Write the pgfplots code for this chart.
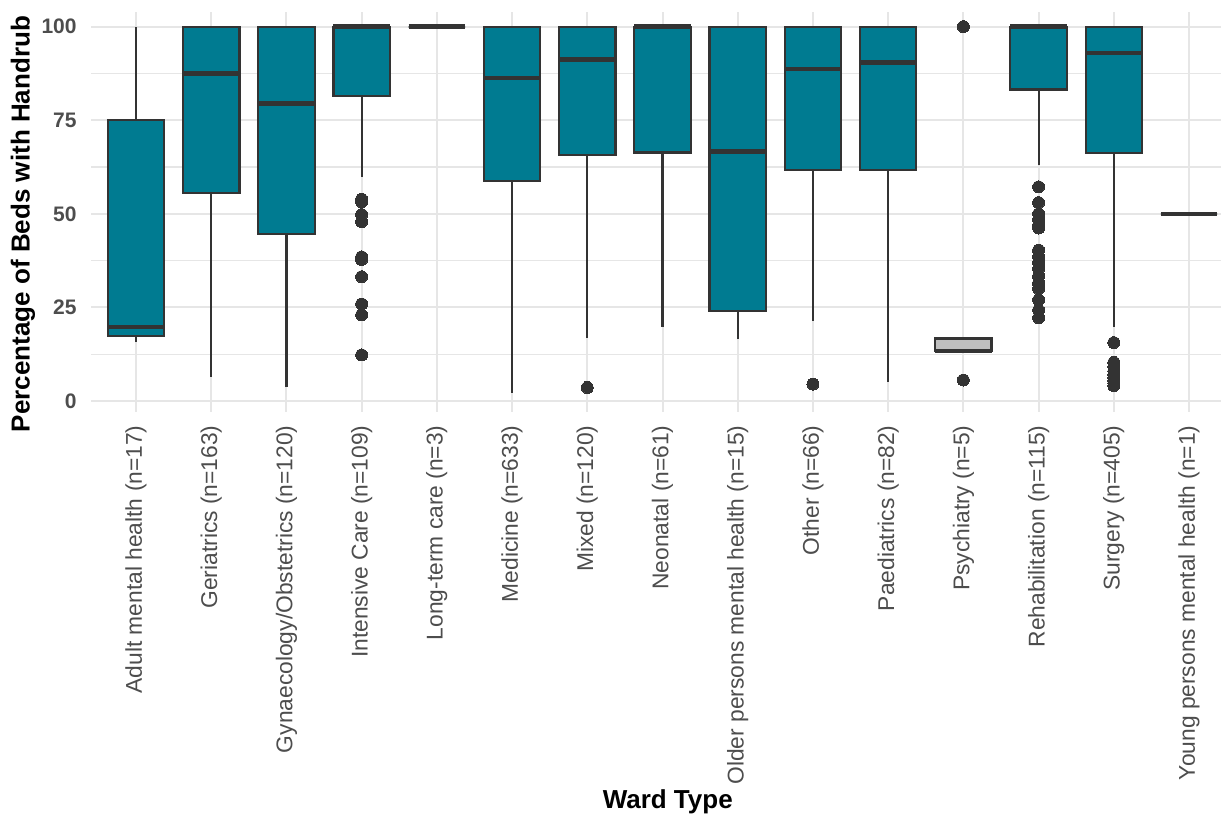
\documentclass[border=0pt]{standalone}
\usepackage{pgfplots}
\pgfplotsset{compat=1.18}
\usepgfplotslibrary{statistics}
\usepackage{fontspec}
\setmainfont{Liberation Sans}

\definecolor{boxfill}{HTML}{007B91}
\definecolor{boxline}{HTML}{333333}
\definecolor{psyfill}{HTML}{BEBEBE}
\definecolor{ticktext}{HTML}{4D4D4D}
\definecolor{gridc}{HTML}{E6E6E6}

\pgfplotsset{
  wardbox/.style={
    solid, draw=boxline, fill=boxfill, line width=1.1pt,
    mark=*, mark size=3pt,
    mark options={draw=boxline, fill=boxline, line width=0pt},
    boxplot/draw direction=y,
    boxplot/box extend=0.75,
    boxplot/whisker extend=0,
    boxplot/every median/.style={line width=2.2pt},
  },
}

\begin{document}
\begin{tikzpicture}
\begin{axis}[
  name=ax,
  scale only axis,
  width=565pt, height=200pt,
  xmin=-0.598, xmax=14.425,
  ymin=-2.94, ymax=103.9,
  /pgf/number format/assume math mode=true,
  xtick={0,...,14},
  xticklabels={
    Adult mental health (n=17),
    Geriatrics (n=163),
    Gynaecology/Obstetrics (n=120),
    Intensive Care (n=109),
    Long-term care (n=3),
    Medicine (n=633),
    Mixed (n=120),
    Neonatal (n=61),
    Older persons mental health (n=15),
    Other (n=66),
    Paediatrics (n=82),
    Psychiatry (n=5),
    Rehabilitation (n=115),
    Surgery (n=405),
    Young persons mental health (n=1)},
  ytick={0,25,50,75,100},
  minor ytick={12.5,37.5,62.5,87.5},
  grid=both,
  major grid style={draw=gridc, line width=1pt},
  minor grid style={draw=gridc, line width=0.6pt},
  axis line style={draw=none},
  major tick length=0pt, minor tick length=0pt,
  tick style={draw=none},
  xticklabel style={rotate=90, anchor=east, inner sep=0pt,
    font=\fontsize{11.4}{13}\selectfont, text=ticktext},
  yticklabel style={anchor=east, inner sep=0pt,
    font=\fontsize{10.5}{12}\selectfont\bfseries, text=ticktext},
  xticklabel shift=6.5pt,
  yticklabel shift=7pt,
  xlabel={Ward Type},
  ylabel={Percentage of Beds with Handrub},
  xlabel style={at={(axis description cs:0.5104,0)}, anchor=base,
    yshift=-198pt, font=\fontsize{13}{15}\selectfont\bfseries},
  ylabel style={at={(axis description cs:0,0.47)}, anchor=center,
    yshift=34pt, font=\fontsize{13}{15}\selectfont\bfseries},
  clip=false,
]
% Adult mental health
\addplot[wardbox, boxplot prepared={draw position=0,
  lower whisker=15.8, lower quartile=17.4, median=19.8,
  upper quartile=75, upper whisker=100}] coordinates {};
% Geriatrics
\addplot[wardbox, boxplot prepared={draw position=1,
  lower whisker=6.5, lower quartile=55.5, median=87.5,
  upper quartile=100, upper whisker=100}] coordinates {};
% Gynaecology/Obstetrics
\addplot[wardbox, boxplot prepared={draw position=2,
  lower whisker=3.8, lower quartile=44.5, median=79.5,
  upper quartile=100, upper whisker=100}] coordinates {};
% Intensive Care
\addplot[wardbox, boxplot prepared={draw position=3,
  lower whisker=59.9, lower quartile=81.5, median=100,
  upper quartile=100, upper whisker=100}]
  table[row sep=\\, y index=0] {53.9\\ 53.2\\ 49.8\\ 47.9\\ 38.5\\ 37.8\\ 33.2\\ 25.9\\ 23.0\\ 12.3\\};
% Long-term care
\addplot[wardbox, boxplot prepared={draw position=4,
  lower whisker=100, lower quartile=100, median=100,
  upper quartile=100, upper whisker=100}] coordinates {};
% Medicine
\addplot[wardbox, boxplot prepared={draw position=5,
  lower whisker=2.2, lower quartile=58.8, median=86.3,
  upper quartile=100, upper whisker=100}] coordinates {};
% Mixed
\addplot[wardbox, boxplot prepared={draw position=6,
  lower whisker=16.9, lower quartile=65.6, median=91.2,
  upper quartile=100, upper whisker=100}]
  table[row sep=\\, y index=0] {3.6\\};
% Neonatal
\addplot[wardbox, boxplot prepared={draw position=7,
  lower whisker=19.8, lower quartile=66.4, median=100,
  upper quartile=100, upper whisker=100}] coordinates {};
% Older persons mental health
\addplot[wardbox, boxplot prepared={draw position=8,
  lower whisker=16.5, lower quartile=24.1, median=66.6,
  upper quartile=100, upper whisker=100}] coordinates {};
% Other
\addplot[wardbox, boxplot prepared={draw position=9,
  lower whisker=21.4, lower quartile=61.7, median=88.7,
  upper quartile=100, upper whisker=100}]
  table[row sep=\\, y index=0] {4.5\\};
% Paediatrics
\addplot[wardbox, boxplot prepared={draw position=10,
  lower whisker=5.2, lower quartile=61.7, median=90.4,
  upper quartile=100, upper whisker=100}] coordinates {};
% Psychiatry
\addplot[wardbox, fill=psyfill, boxplot prepared={draw position=11,
  lower whisker=13.3, lower quartile=13.3, median=13.3,
  upper quartile=16.7, upper whisker=16.7}]
  table[row sep=\\, y index=0] {5.6\\ 100\\};
% Rehabilitation
\addplot[wardbox, boxplot prepared={draw position=12,
  lower whisker=63.0, lower quartile=83.2, median=100,
  upper quartile=100, upper whisker=100}]
  table[row sep=\\, y index=0] {57.2\\ 53.0\\ 50.0\\ 48.5\\ 47.0\\ 46.2\\ 40.3\\ 38.5\\ 37.0\\ 35.3\\ 33.3\\ 31.5\\ 30.0\\ 27.0\\ 24.3\\ 22.2\\};
% Surgery
\addplot[wardbox, boxplot prepared={draw position=13,
  lower whisker=19.8, lower quartile=66.3, median=93.0,
  upper quartile=100, upper whisker=100}]
  table[row sep=\\, y index=0] {15.6\\ 10.3\\ 9.1\\ 8.0\\ 7.1\\ 6.3\\ 5.5\\ 4.8\\ 4.1\\};
% Young persons mental health
\addplot[wardbox, boxplot prepared={draw position=14,
  lower whisker=50, lower quartile=50, median=50,
  upper quartile=50, upper whisker=50}] coordinates {};
\end{axis}
\pgfresetboundingbox
\path ([xshift=-45.5pt, yshift=-201pt]ax.south west)
  rectangle ([yshift=6pt]ax.north east);
\end{tikzpicture}
\end{document}
